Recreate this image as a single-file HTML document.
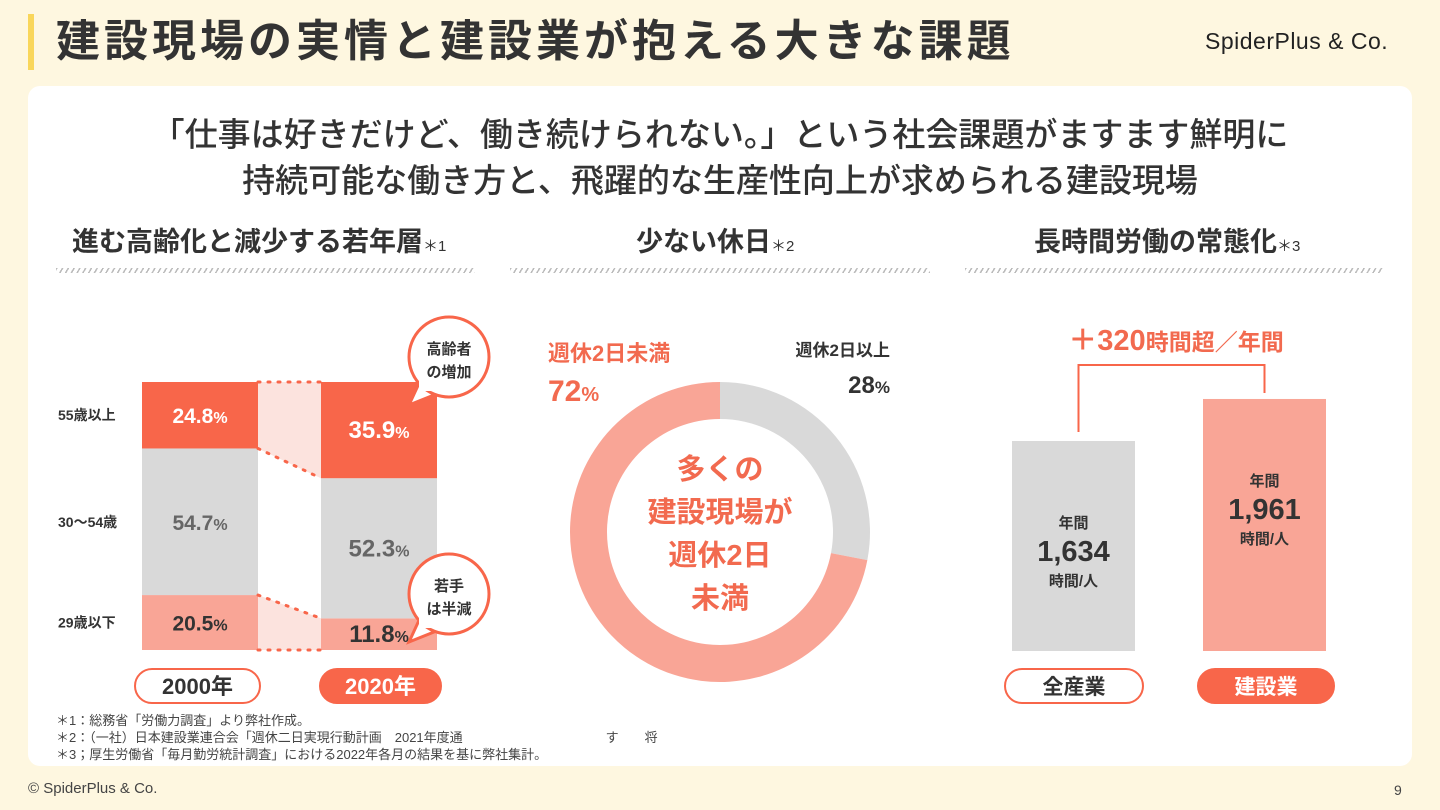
<!DOCTYPE html>
<html><head><meta charset="utf-8">
<style>
*{margin:0;padding:0;box-sizing:border-box}
body{width:1440px;height:810px;background:#FEF7E0;font-family:"Liberation Sans","Noto Sans CJK JP",sans-serif;color:#333;position:relative;overflow:hidden}
.abs{position:absolute}
.b{font-weight:bold}
</style></head><body>
<div class="abs" style="left:28px;top:14px;width:6px;height:56px;background:#F9D65A"></div>
<div class="abs b" style="left:56px;top:14px;font-size:44px;letter-spacing:4px;line-height:56px;color:#333;white-space:nowrap">建設現場の実情と建設業が抱える大きな課題</div>
<div class="abs" style="left:1205px;top:28px;font-size:23px;font-weight:500;color:#222;letter-spacing:0.5px;white-space:nowrap">SpiderPlus &amp; Co.</div>
<div class="abs" style="left:28px;top:86px;width:1384px;height:680px;background:#fff;border-radius:12px"></div>
<div class="abs" style="left:28px;top:112px;width:1384px;text-align:center;font-size:33px;line-height:46px;color:#333;font-weight:500">「仕事は好きだけど、働き続けられない。」という社会課題がますます鮮明に<br>持続可能な働き方と、飛躍的な生産性向上が求められる建設現場</div>

<div class="abs b" style="left:72px;top:225px;font-size:27px;line-height:34px;white-space:nowrap">進む高齢化と減少する若年層<span style="font-size:15px;font-weight:normal">＊1</span></div>
<div class="abs b" style="left:636px;top:225px;font-size:27px;line-height:34px;white-space:nowrap">少ない休日<span style="font-size:15px;font-weight:normal">＊2</span></div>
<div class="abs b" style="left:1034px;top:225px;font-size:27px;line-height:34px;white-space:nowrap">長時間労働の常態化<span style="font-size:15px;font-weight:normal">＊3</span></div>
<div class="abs" style="left:56px;top:268px;width:419px;height:5px;background:repeating-linear-gradient(120deg,#bbb 0 1.5px,transparent 1.5px 5px)"></div>
<div class="abs" style="left:510px;top:268px;width:420px;height:5px;background:repeating-linear-gradient(120deg,#bbb 0 1.5px,transparent 1.5px 5px)"></div>
<div class="abs" style="left:965px;top:268px;width:418px;height:5px;background:repeating-linear-gradient(120deg,#bbb 0 1.5px,transparent 1.5px 5px)"></div>

<svg class="abs" style="left:0;top:0" width="1440" height="810" id="chart"></svg>

<div class="abs" style="left:56px;top:712px;font-size:13px;line-height:17px;color:#444">＊1：総務省「労働力調査」より弊社作成。<br>＊2：（一社）日本建設業連合会「週休二日実現行動計画　2021年度通　　　　　　　　　　　す　　将<br>＊3；厚生労働省「毎月勤労統計調査」における2022年各月の結果を基に弊社集計。</div>
<div class="abs" style="left:28px;top:780px;font-size:15px;color:#444">© SpiderPlus &amp; Co.</div>
<div class="abs" style="left:1394px;top:782px;font-size:14px;color:#444">9</div>

<script>
const ageGroups=['29歳以下','30〜54歳','55歳以上'];
const years=['2000年','2020年'];
const share2000=[20.5,54.7,24.8];
const share2020=[11.8,52.3,35.9];
const holidayLabels=['週休2日以上','週休2日未満'];
const holidayShare=[28,72];
const industries=['全産業','建設業'];
const annualHours=[1634,1961];

const NS='http://www.w3.org/2000/svg';
const svg=document.getElementById('chart');
function mk(tag,attrs,parent){const e=document.createElementNS(NS,tag);for(const k in attrs)e.setAttribute(k,attrs[k]);(parent||svg).appendChild(e);return e;}
function txt(x,y,s,size,fill,anchor,weight){const t=mk('text',{x:x,y:y,'font-size':size,fill:fill,'text-anchor':anchor||'middle','font-weight':weight||'bold','font-family':'Liberation Sans, Noto Sans CJK JP, sans-serif'});t.textContent=s;return t;}

const ORANGE='#F8664A',GRAY='#D9D9D9',SALMON='#F9A596';
// chart 1
const base=650,H=268;
const y1=v=>v/100*H;
const segCol=[SALMON,GRAY,ORANGE];
const segTxt=['#333','#666','#fff'];
const bx=[142,321],bw=116;
const data=[share2000,share2020];
const bounds=[[],[]];
data.forEach((arr,i)=>{
  let y=base;bounds[i].push(y);
  arr.forEach((v,j)=>{
    const h=y1(v);y-=h;
    const r=mk('rect',{x:bx[i],y:y,width:bw,height:h,fill:segCol[j]});
    
    
    bounds[i].push(y);
    const t=txt(bx[i]+bw/2,y+h/2+8,'',i?24:21,segTxt[j]);
    t.innerHTML=v.toFixed(1)+'<tspan font-size="16">%</tspan>';
    
    
  });
});
// connectors
const cx0=bx[0]+bw,cx1=bx[1];
[[2,3],[0,1]].forEach(([a,b])=>{
  const p=mk('polygon',{points:`${cx0},${bounds[0][a]} ${cx1},${bounds[1][a]} ${cx1},${bounds[1][b]} ${cx0},${bounds[0][b]}`,fill:'#FCE3DE'});
  
  
  [a,b].forEach(k=>mk('line',{x1:cx0,y1:bounds[0][k],x2:cx1,y2:bounds[1][k],stroke:ORANGE,'stroke-width':3,'stroke-dasharray':'2 8','stroke-linecap':'round'}));
});
// category labels
ageGroups.forEach((g,j)=>{
  const m=(bounds[0][j]+bounds[0][j+1])/2;
  const t=txt(58,m+5,g,14,'#333','start');
  
  
});
// bubbles
function bubble(cx,cy,l1,l2,name){
  const g=mk('g',{});
  mk('path',{d:`M${cx-28},${cy+22} L${cx-40},${cy+48} L${cx-10},${cy+36}`,fill:'#fff',stroke:ORANGE,'stroke-width':3},g);
  mk('circle',{cx:cx,cy:cy,r:40,fill:'#fff',stroke:ORANGE,'stroke-width':3},g);
  mk('rect',{x:cx-30,y:cy+20,width:22,height:14,fill:'#fff'},g);
  g.appendChild(txt(cx,cy-3,l1,15,'#333'));g.appendChild(txt(cx,cy+20,l2,15,'#333'));
}
bubble(449,357,'高齢者','の増加','bubble-elderly');
bubble(449,594,'若手','は半減','bubble-young');
// year pills
function pill(x,w,label,filled,name){
  const r=mk('rect',{x:x,y:669,width:w,height:34,rx:17,fill:filled?ORANGE:'#fff',stroke:ORANGE,'stroke-width':2});
  
  const t=txt(x+w/2,694,label,22,filled?'#fff':'#333');
  
}
pill(135,125,years[0],false,'pill-2000');
pill(320,121,years[1],true,'pill-2020');

// chart 2 donut
const dcx=720,dcy=532,R=150,r0=113;
let ang=0;const tot=holidayShare.reduce((a,b)=>a+b,0);
const dcol=[GRAY,SALMON];
holidayShare.forEach((v,i)=>{
  const a0=ang,a1=ang+v/tot*2*Math.PI;ang=a1;
  const P=(rr,a)=>[dcx+rr*Math.sin(a),dcy-rr*Math.cos(a)];
  const lg=(a1-a0)>Math.PI?1:0;
  const [x0,y0]=P(R,a0),[x1,yy1]=P(R,a1),[x2,y2]=P(r0,a1),[x3,y3]=P(r0,a0);
  const p=mk('path',{d:`M${x0},${y0} A${R},${R} 0 ${lg} 1 ${x1},${yy1} L${x2},${y2} A${r0},${r0} 0 ${lg} 0 ${x3},${y3}Z`,fill:dcol[i]});
  
  
});
const RED='#F26A4F';
['多くの','建設現場が','週休2日','未満'].forEach((s,i)=>{const t=txt(dcx,479+i*43,s,29,RED);});
let t=txt(548,361,holidayLabels[1],22,RED,'start');
t=txt(548,401,'',30,RED,'start');t.innerHTML=holidayShare[1]+'<tspan font-size="20">%</tspan>';
t=txt(890,356,holidayLabels[0],17,'#333','end');
t=txt(890,393,'',24,'#333','end');t.innerHTML=holidayShare[0]+'<tspan font-size="17">%</tspan>';

// chart 3
const hb=651,hs=210/1634;
const hx=[1012,1203],hw=123,hcol=[GRAY,SALMON];
const tops=[];
annualHours.forEach((v,i)=>{
  const h=v*hs;tops.push(hb-h);
  const r=mk('rect',{x:hx[i],y:hb-h,width:hw,height:h,fill:hcol[i]});
  
  const cy=hb-h+87;
  txt(hx[i]+hw/2,cy,'年間',15,'#333');
  const n=txt(hx[i]+hw/2,cy+33,v.toLocaleString('en-US'),29,'#333');
  txt(hx[i]+hw/2,cy+58,'時間/人',15,'#333');
});
const lx0=hx[0]+hw/2+5,lx1=hx[1]+hw/2;
mk('polyline',{points:`${lx0},${tops[0]-9} ${lx0},365 ${lx1},365 ${lx1},${tops[1]-6}`,fill:'none',stroke:ORANGE,'stroke-width':2});
t=txt(1176,350,'',29,RED);t.innerHTML='＋'+(annualHours[1]-annualHours[0]-7)+'<tspan font-size="23">時間超／年間</tspan>';

function pill2(x,w,label,filled,name){
  const r=mk('rect',{x:x,y:669,width:w,height:34,rx:17,fill:filled?ORANGE:'#fff',stroke:ORANGE,'stroke-width':2});
  
  txt(x+w/2,694,label,21,filled?'#fff':'#333');
}
pill2(1005,138,industries[0],false,'pill-all-industries');
pill2(1198,136,industries[1],true,'pill-construction');
</script>
</body></html>
